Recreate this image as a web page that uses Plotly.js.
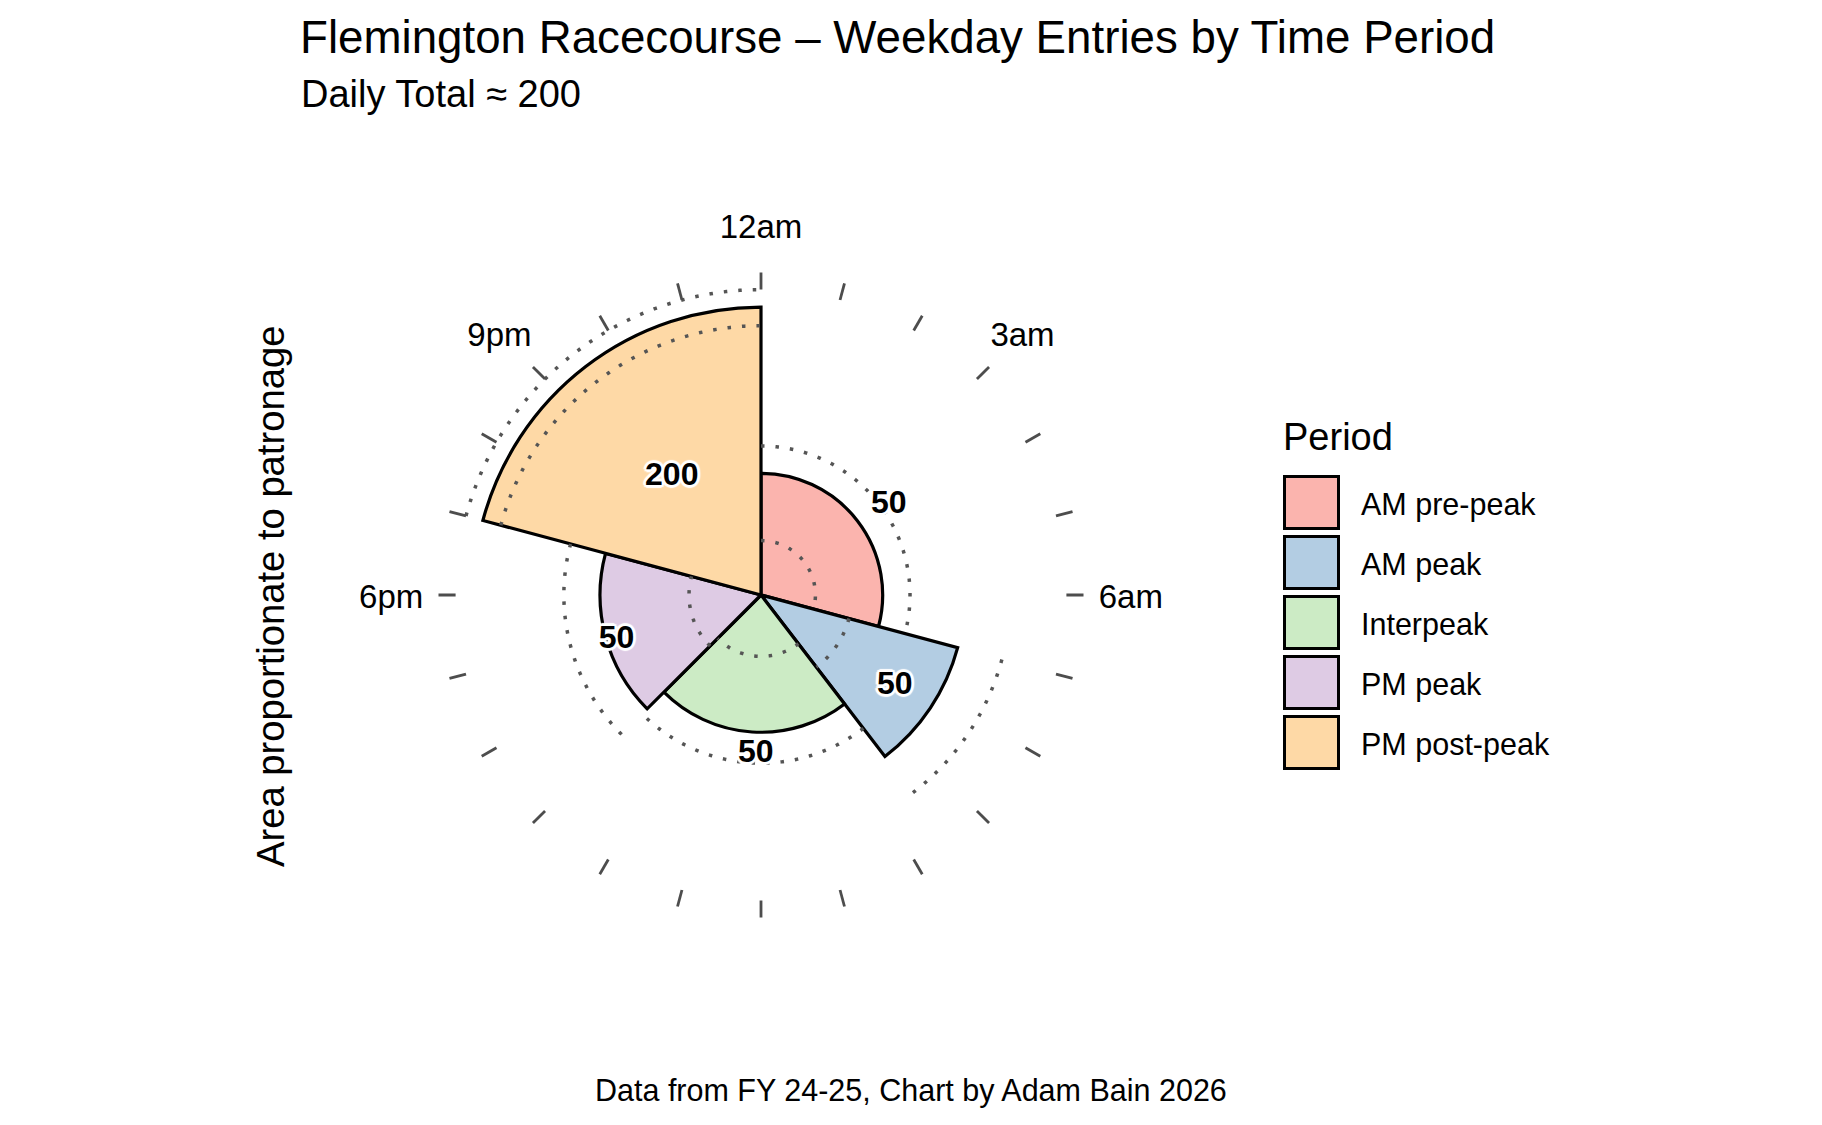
<!DOCTYPE html>
<html>
<head>
<meta charset="utf-8">
<script src="https://cdn.plot.ly/plotly-3.0.1.min.js"></script>
<style>
  html, body { margin: 0; padding: 0; background: #fff; }
  #chartDiv { width: 1822px; height: 1125px; }
</style>
</head>
<body>
<div id="chartDiv"></div>
<script>
// Weekday entries by period (rounded), with the dotted low / high range
var periods = ["AM pre-peak", "AM peak", "Interpeak", "PM peak", "PM post-peak"];
var startHour = [0, 7, 9.5, 15, 19];
var endHour = [7, 9.5, 15, 19, 24];
var entries = [50, 50, 50, 50, 200];
var entriesLow = [10, 10, 10, 10, 175];
var entriesHigh = [75, 75, 75, 75, 225];
var colours = ["#FBB4AE", "#B3CDE3", "#CCEBC5", "#DECBE4", "#FED9A6"];

var labelHours = [0, 3, 6, 9, 12, 15, 18, 21];
var hourLabels = ["12am", "3am", "6am", "9am", "12pm", "3pm", "6pm", "9pm"];

var FONT = "Liberation Sans, Arial, Helvetica, sans-serif";
var W = 1822, H = 1125;

// area proportional to patronage: radius = sqrt(entries per hour)
function areaRadius(value, i) {
	return Math.sqrt(value / (endHour[i] - startHour[i]));
}
function hourToDeg(h) { return h * 15; }

var barR = entries.map(areaRadius);
var lowR = entriesLow.map(areaRadius);
var highR = entriesHigh.map(areaRadius);
var midDeg = periods.map(function(p, i) { return hourToDeg((startHour[i] + endHour[i]) / 2); });
var spanDeg = periods.map(function(p, i) { return hourToDeg(endHour[i] - startHour[i]); });
var rMax = Math.max.apply(null, highR);

// clock furniture, relative to the outermost range arc
var tickIn = rMax, tickOut = rMax * 1.056;
var hourLabelRadius = rMax * 1.211;
var outerR = rMax * 1.22;

// polar area placement: pixel radius of rMax, centre of the clock
var rMaxPx = 305.4;
var cx = 761, cy = 595, rad = rMaxPx * outerR / rMax;
var pxPerUnit = rMaxPx / rMax;

// small screen-space nudge for text (compass angle, clockwise from top)
function nudge(r, deg, dxPx, dyPx) {
	var a = deg * Math.PI / 180;
	var x = r * Math.sin(a) + dxPx / pxPerUnit;
	var y = r * Math.cos(a) - dyPx / pxPerUnit;
	var t = Math.atan2(x, y) * 180 / Math.PI;
	return {r: Math.sqrt(x * x + y * y), theta: (t + 360) % 360};
}

var data = [];

data.push({
	type: "barpolar",
	r: barR,
	theta: midDeg,
	width: spanDeg,
	marker: {color: colours, line: {color: "#000", width: 3.2}},
	hoverinfo: "skip",
	showlegend: false
});

// dotted range arcs for each period
function arcTrace(radius, i) {
	var th = [], rr = [];
	var a0 = hourToDeg(startHour[i]), a1 = hourToDeg(endHour[i]);
	for (var a = a0; a <= a1 + 1e-9; a += 0.5) {
		th.push(a);
		rr.push(radius);
	}
	return {
		type: "scatterpolar",
		mode: "lines",
		r: rr,
		theta: th,
		line: {color: "#555", width: 3.5, dash: "3.5px,11px"},
		cliponaxis: false,
		hoverinfo: "skip",
		showlegend: false
	};
}
for (var i = 0; i < periods.length; i++) {
	data.push(arcTrace(lowR[i], i));
	data.push(arcTrace(highR[i], i));
}

// hourly tick dashes
var tickR = [], tickTh = [];
for (var h = 0; h < 24; h++) {
	tickR.push(tickIn, tickOut, null);
	tickTh.push(hourToDeg(h), hourToDeg(h), null);
}
data.push({
	type: "scatterpolar",
	mode: "lines",
	r: tickR,
	theta: tickTh,
	line: {color: "#4d4d4d", width: 2.8},
	connectgaps: false,
	cliponaxis: false,
	hoverinfo: "skip",
	showlegend: false
});

// value labels
var labelRadius = 3.4;
var valuePos = midDeg.map(function(d) { return nudge(labelRadius, d, 5, 4.6); });
data.push({
	type: "scatterpolar",
	mode: "text",
	r: valuePos.map(function(p) { return p.r; }),
	theta: valuePos.map(function(p) { return p.theta; }),
	text: entries.map(String),
	textposition: "middle center",
	textfont: {
		family: FONT, size: 32, color: "#000", weight: "bold",
		shadow: "3px 0 1px #fff, -3px 0 1px #fff, 0 3px 1px #fff, 0 -3px 1px #fff, 2px 2px 1px #fff, -2px -2px 1px #fff, 2px -2px 1px #fff, -2px 2px 1px #fff"
	},
	cliponaxis: false,
	hoverinfo: "skip",
	showlegend: false
});

// hour labels around the clock
var hourPos = labelHours.map(function(hr) { return nudge(hourLabelRadius, hourToDeg(hr), 0, 4.6); });
data.push({
	type: "scatterpolar",
	mode: "text",
	r: hourPos.map(function(p) { return p.r; }),
	theta: hourPos.map(function(p) { return p.theta; }),
	text: hourLabels,
	textposition: "middle center",
	textfont: {family: FONT, size: 33, color: "#000"},
	cliponaxis: false,
	hoverinfo: "skip",
	showlegend: false
});

var layout = {
	width: W,
	height: H,
	margin: {l: 0, r: 0, t: 0, b: 0},
	paper_bgcolor: "#fff",
	plot_bgcolor: "#fff",
	font: {family: FONT, color: "#000"},
	showlegend: false,
	title: {
		text: "Flemington Racecourse – Weekday Entries by Time Period",
		font: {family: FONT, size: 45.7, color: "#000"},
		x: 300 / W, xanchor: "left", xref: "paper",
		y: 1 - 37 / H, yanchor: "middle", yref: "container"
	},
	polar: {
		domain: {x: [(cx - rad) / W, (cx + rad) / W], y: [(H - cy - rad) / H, (H - cy + rad) / H]},
		bgcolor: "rgba(0,0,0,0)",
		bargap: 0,
		radialaxis: {visible: false, range: [0, outerR], showgrid: false},
		angularaxis: {
			rotation: 90,
			direction: "clockwise",
			showticklabels: false,
			ticks: "",
			showgrid: false,
			showline: false
		}
	},
	annotations: [
		{
			text: "Daily Total ≈ 200",
			x: 299 / W, y: 1 - 94 / H, xref: "paper", yref: "paper",
			xanchor: "left", yanchor: "middle", showarrow: false,
			font: {family: FONT, size: 38, color: "#000"}
		},
		{
			text: "Area proportionate to patronage",
			textangle: -90,
			x: 270 / W, y: 1 - 597 / H, xref: "paper", yref: "paper",
			xanchor: "center", yanchor: "middle", showarrow: false,
			font: {family: FONT, size: 38.2, color: "#000"}
		},
		{
			text: "Data from FY 24-25, Chart by Adam Bain 2026",
			x: 0.5, y: 1 - 1090 / H, xref: "paper", yref: "paper",
			xanchor: "center", yanchor: "middle", showarrow: false,
			font: {family: FONT, size: 30.5, color: "#000"}
		},
		{
			text: "Period",
			x: 1281 / W, y: 1 - 437 / H, xref: "paper", yref: "paper",
			xanchor: "left", yanchor: "middle", showarrow: false,
			font: {family: FONT, size: 38, color: "#000"}
		}
	],
	shapes: []
};

// hand-built legend so the keys match the large boxed swatches
var keyTop = 475, keyStep = 60, keySize = 55;
for (var k = 0; k < periods.length; k++) {
	var keyY = keyTop + k * keyStep;
	layout.shapes.push({
		type: "rect", xref: "paper", yref: "paper",
		x0: 1284.5 / W, x1: 1338.5 / W,
		y0: 1 - (keyY + keySize - 1.5) / H, y1: 1 - (keyY + 1.5) / H,
		fillcolor: colours[k],
		line: {color: "#000", width: 3}
	});
	layout.annotations.push({
		text: periods[k],
		x: 1359 / W, y: 1 - (keyY + keySize / 2 + 2) / H, xref: "paper", yref: "paper",
		xanchor: "left", yanchor: "middle", showarrow: false,
		font: {family: FONT, size: 30.5, color: "#000"}
	});
}

Plotly.newPlot("chartDiv", data, layout, {displayModeBar: false, staticPlot: true});
</script>
</body>
</html>
